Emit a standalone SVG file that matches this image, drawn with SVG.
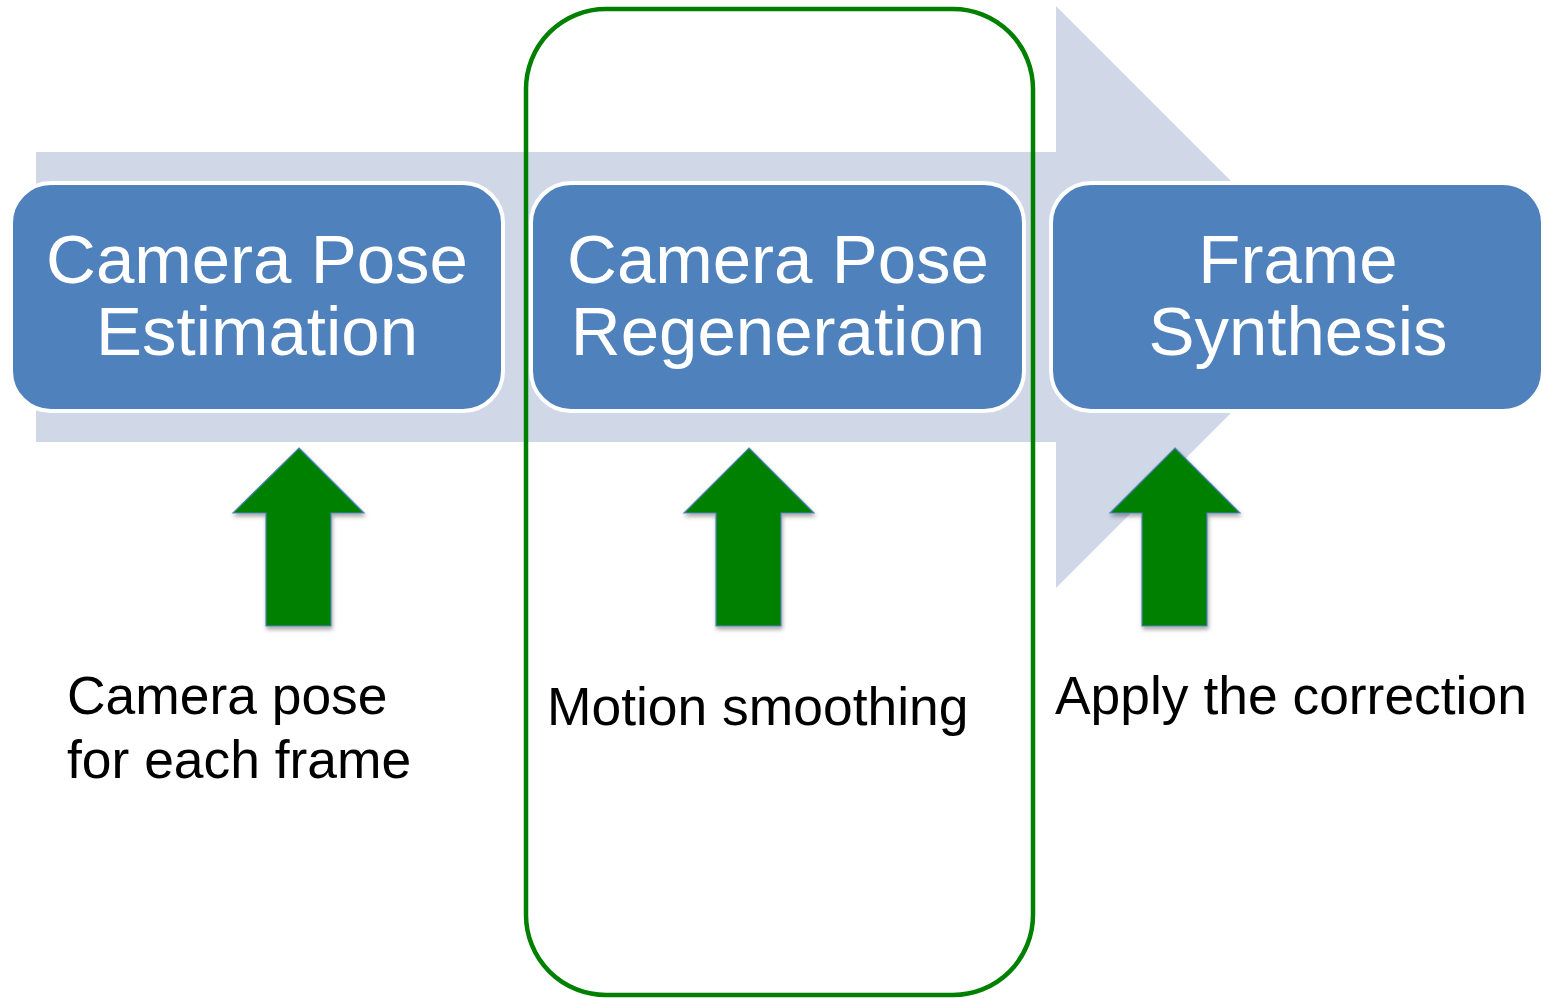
<svg xmlns="http://www.w3.org/2000/svg" width="1545" height="998" viewBox="0 0 1545 998">
<defs>
<style>
.box{fill:#4F81BD;stroke:#FFFFFF;stroke-width:4}
.btxt{fill:#FFFFFF;font-family:"Liberation Sans",Arial,sans-serif;font-size:69px;text-anchor:middle}
.ltxt{fill:#000000;font-family:"Liberation Sans",Arial,sans-serif;font-size:53.4px}
.garrow{fill:#008000;stroke:#4F81BD;stroke-width:1.2;filter:url(#sh)}
</style>
<filter id="sh" x="-20%" y="-10%" width="140%" height="130%">
<feDropShadow dx="1" dy="3" stdDeviation="2" flood-color="#000" flood-opacity="0.35"/>
</filter>
</defs>
<rect width="1545" height="998" fill="#FFFFFF"/>
<g id="backbone">
<path d="M36 152 H1056 V6 L1347 297 L1056 588 V442 H36 Z" fill="#D0D8E8"/>
</g>
<g id="group-frame">
<rect x="526" y="9" width="507" height="986" rx="80" ry="80" fill="none" stroke="#008000" stroke-width="4.5"/>
</g>
<g id="node-estimation">
<rect class="box" x="11" y="183" width="492" height="228" rx="40" ry="40"/>
<text class="btxt" x="257" y="283">Camera Pose</text>
<text class="btxt" x="257" y="355">Estimation</text>
</g>
<g id="node-regeneration">
<rect class="box" x="531" y="183" width="493" height="228" rx="40" ry="40"/>
<text class="btxt" x="778" y="283">Camera Pose</text>
<text class="btxt" x="778" y="355">Regeneration</text>
</g>
<g id="node-synthesis">
<rect class="box" x="1051" y="183" width="492" height="228" rx="40" ry="40"/>
<text class="btxt" x="1298" y="283">Frame</text>
<text class="btxt" x="1298" y="355">Synthesis</text>
</g>
<g id="connectors">
<path class="garrow" d="M299 448 L364 513 H331 V626 H266 V513 H233 Z"/>
<path class="garrow" d="M749 448 L814 513 H781 V626 H716 V513 H684 Z"/>
<path class="garrow" d="M1175 448 L1240 513 H1207 V626 H1142 V513 H1110 Z"/>
</g>
<g id="labels">
<text class="ltxt" x="67" y="714">Camera pose</text>
<text class="ltxt" x="67" y="778">for each frame</text>
<text class="ltxt" x="547" y="725">Motion smoothing</text>
<text class="ltxt" x="1055" y="714">Apply the correction</text>
</g>
</svg>
